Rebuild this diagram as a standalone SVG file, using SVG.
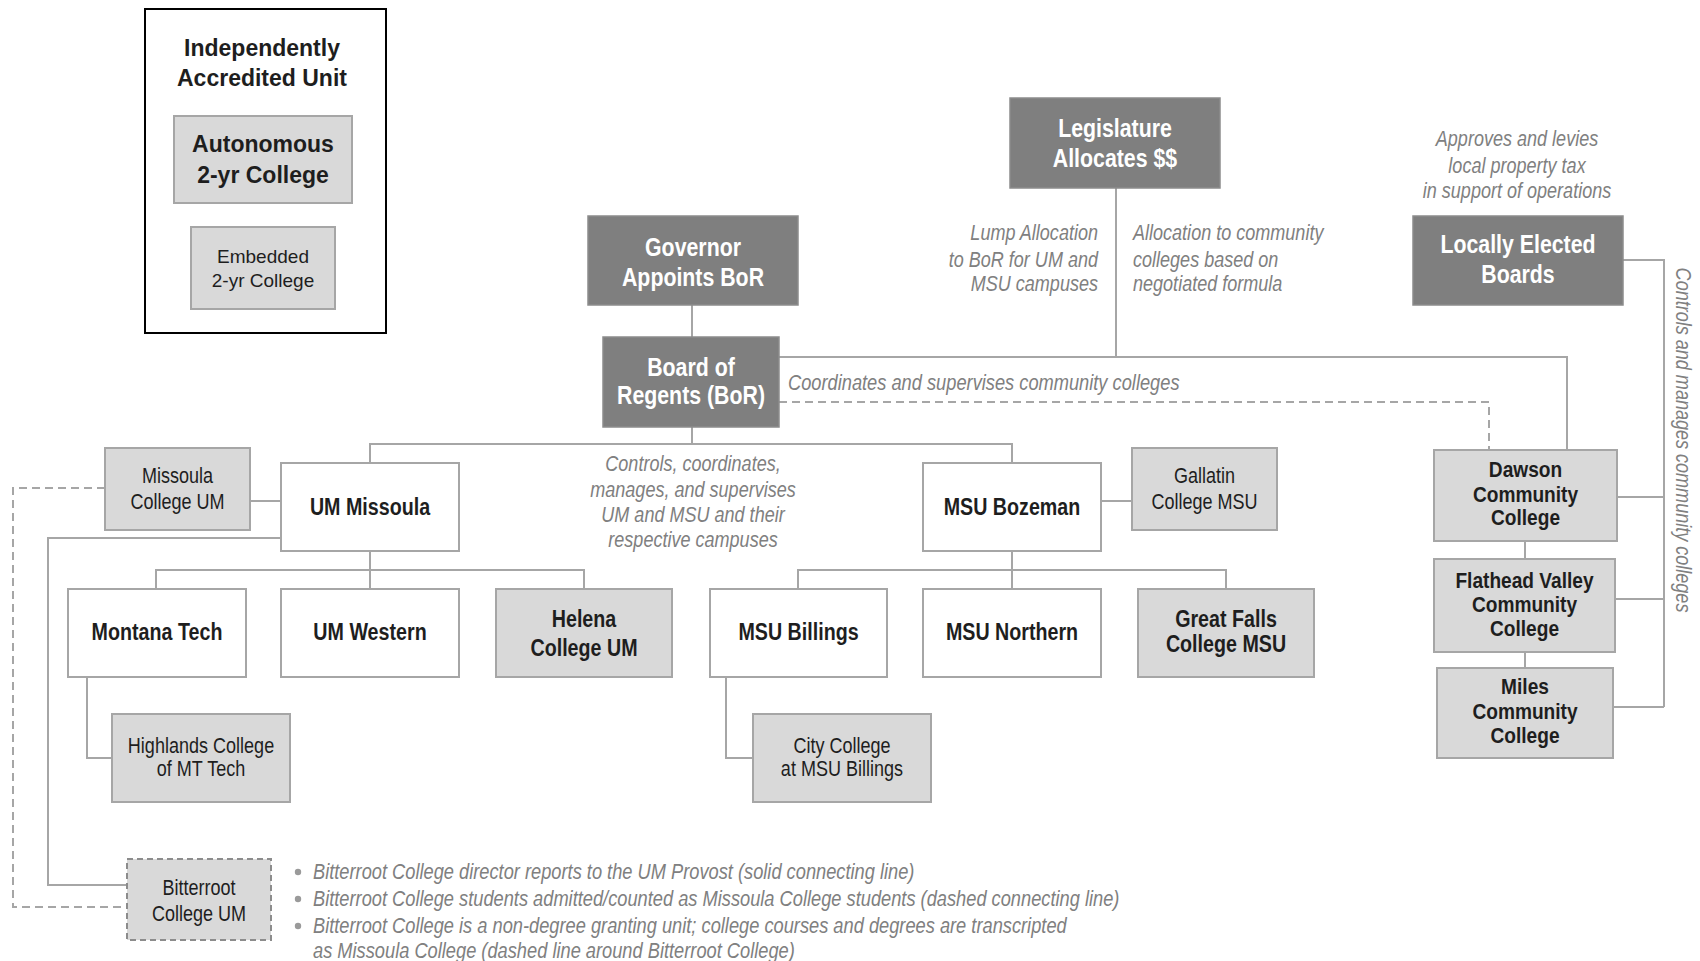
<svg xmlns="http://www.w3.org/2000/svg" width="1700" height="961" viewBox="0 0 1700 961">
<style>
text{font-family:'Liberation Sans',Arial,sans-serif;text-anchor:middle}
.dk{fill:#7f7f7f;stroke:#8c8c8c;stroke-width:1.5}
.lt{fill:#d9d9d9;stroke:#a6a6a6;stroke-width:2}
.wh{fill:#ffffff;stroke:#a6a6a6;stroke-width:2}
.dt{fill:#ffffff;font-weight:bold;font-size:26px}
.bt{fill:#1e1e1e;font-weight:bold;font-size:24px}
.ct{fill:#1e1e1e;font-weight:bold;font-size:22px}
.rt{fill:#1e1e1e;font-size:22px}
.it{fill:#808080;font-style:italic;font-size:22px}
.st{text-anchor:start}
.en{text-anchor:end}
.lg{fill:#1e1e1e;font-weight:bold;font-size:23px}
.lr{fill:#1e1e1e;font-size:19px}
.cn{fill:none;stroke:#a6a6a6;stroke-width:2}
.ds{fill:none;stroke:#a6a6a6;stroke-width:2;stroke-dasharray:8 5}
</style>

<g id="connectors">
  <path class="cn" d="M692 305V337"/>
  <path class="cn" d="M692 427V444M370 463V444H1012V463"/>
  <path class="cn" d="M1116 188V357"/>
  <path class="cn" d="M779 357H1567V450"/>
  <path class="ds" d="M779 402H1489V450"/>
  <path class="cn" d="M1623 260H1664V707"/>
  <path class="cn" d="M1617 497H1664M1615 599H1664M1613 707H1664"/>
  <path class="cn" d="M1525 541V559M1525 652V668"/>
  <path class="cn" d="M250 501H281"/>
  <path class="cn" d="M370 551V570M156 589V570H584V589M370 570V589"/>
  <path class="cn" d="M87 677V758H112"/>
  <path class="cn" d="M281 538H48V885H127"/>
  <path class="ds" d="M105 488H13V907H127"/>
  <path class="cn" d="M1101 501H1132"/>
  <path class="cn" d="M1012 551V570M798 589V570H1226V589M1012 570V589"/>
  <path class="cn" d="M726 677V758H753"/>
</g>

<g id="legend">
  <rect x="145" y="9" width="241" height="324" fill="#ffffff" stroke="#000000" stroke-width="2"/>
  <text class="lg" x="262" y="56">Independently</text>
  <text class="lg" x="262" y="86">Accredited Unit</text>
  <rect class="lt" x="174" y="116" width="178" height="87"/>
  <text class="lg" x="263" y="152">Autonomous</text>
  <text class="lg" x="263" y="183">2-yr College</text>
  <rect class="lt" x="191" y="227" width="144" height="82"/>
  <text class="lr" x="263" y="263">Embedded</text>
  <text class="lr" x="263" y="287">2-yr College</text>
</g>

<g id="legislature">
  <rect class="dk" x="1010" y="98" width="210" height="90"/>
  <text class="dt" transform="translate(1115,137) scale(0.82,1)">Legislature</text>
  <text class="dt" transform="translate(1115,167) scale(0.82,1)">Allocates $$</text>
</g>
<g id="governor">
  <rect class="dk" x="588" y="216" width="210" height="89"/>
  <text class="dt" transform="translate(693,256) scale(0.82,1)">Governor</text>
  <text class="dt" transform="translate(693,286) scale(0.82,1)">Appoints BoR</text>
</g>
<g id="bor">
  <rect class="dk" x="603" y="337" width="176" height="90"/>
  <text class="dt" transform="translate(691,376) scale(0.82,1)">Board of</text>
  <text class="dt" transform="translate(691,404) scale(0.82,1)">Regents (BoR)</text>
</g>
<g id="local-boards">
  <rect class="dk" x="1413" y="216" width="210" height="89"/>
  <text class="dt" transform="translate(1518,253) scale(0.82,1)">Locally Elected</text>
  <text class="dt" transform="translate(1518,283) scale(0.82,1)">Boards</text>
</g>

<g id="annotations">
  <text class="it en" transform="translate(1098,240) scale(0.82,1)">Lump Allocation</text>
  <text class="it en" transform="translate(1098,267) scale(0.82,1)">to BoR for UM and</text>
  <text class="it en" transform="translate(1098,291) scale(0.82,1)">MSU campuses</text>
  <text class="it st" transform="translate(1133,240) scale(0.82,1)">Allocation to community</text>
  <text class="it st" transform="translate(1133,267) scale(0.82,1)">colleges based on</text>
  <text class="it st" transform="translate(1133,291) scale(0.82,1)">negotiated formula</text>
  <text class="it" transform="translate(1517,146) scale(0.82,1)">Approves and levies</text>
  <text class="it" transform="translate(1517,173) scale(0.82,1)">local property tax</text>
  <text class="it" transform="translate(1517,198) scale(0.82,1)">in support of operations</text>
  <text class="it st" transform="translate(788,390) scale(0.83,1)">Coordinates and supervises community colleges</text>
  <text class="it" transform="translate(693,471) scale(0.82,1)">Controls, coordinates,</text>
  <text class="it" transform="translate(693,497) scale(0.82,1)">manages, and supervises</text>
  <text class="it" transform="translate(693,522) scale(0.82,1)">UM and MSU and their</text>
  <text class="it" transform="translate(693,547) scale(0.82,1)">respective campuses</text>
  <text class="it" transform="translate(1676,440) rotate(90) scale(0.82,1)">Controls and manages community colleges</text>
</g>

<g id="missoula-college">
  <rect class="lt" x="105" y="448" width="145" height="82"/>
  <text class="rt" transform="translate(177.5,483) scale(0.82,1)">Missoula</text>
  <text class="rt" transform="translate(177.5,509) scale(0.82,1)">College UM</text>
</g>
<g id="um-missoula">
  <rect class="wh" x="281" y="463" width="178" height="88"/>
  <text class="bt" transform="translate(370,515) scale(0.82,1)">UM Missoula</text>
</g>
<g id="montana-tech">
  <rect class="wh" x="68" y="589" width="178" height="88"/>
  <text class="bt" transform="translate(157,640) scale(0.82,1)">Montana Tech</text>
</g>
<g id="um-western">
  <rect class="wh" x="281" y="589" width="178" height="88"/>
  <text class="bt" transform="translate(370,640) scale(0.82,1)">UM Western</text>
</g>
<g id="helena">
  <rect class="lt" x="496" y="589" width="176" height="88"/>
  <text class="bt" transform="translate(584,627) scale(0.82,1)">Helena</text>
  <text class="bt" transform="translate(584,656) scale(0.82,1)">College UM</text>
</g>
<g id="highlands">
  <rect class="lt" x="112" y="714" width="178" height="88"/>
  <text class="rt" transform="translate(201,753) scale(0.82,1)">Highlands College</text>
  <text class="rt" transform="translate(201,776) scale(0.82,1)">of MT Tech</text>
</g>
<g id="bitterroot">
  <rect class="lt" x="127" y="859" width="144" height="81" style="stroke:#8c8c8c;stroke-dasharray:6 4"/>
  <text class="rt" transform="translate(199,895) scale(0.82,1)">Bitterroot</text>
  <text class="rt" transform="translate(199,921) scale(0.82,1)">College UM</text>
</g>

<g id="msu-bozeman">
  <rect class="wh" x="923" y="463" width="178" height="88"/>
  <text class="bt" transform="translate(1012,515) scale(0.82,1)">MSU Bozeman</text>
</g>
<g id="gallatin">
  <rect class="lt" x="1132" y="448" width="145" height="82"/>
  <text class="rt" transform="translate(1204.5,483) scale(0.82,1)">Gallatin</text>
  <text class="rt" transform="translate(1204.5,509) scale(0.82,1)">College MSU</text>
</g>
<g id="msu-billings">
  <rect class="wh" x="710" y="589" width="177" height="88"/>
  <text class="bt" transform="translate(798.5,640) scale(0.82,1)">MSU Billings</text>
</g>
<g id="msu-northern">
  <rect class="wh" x="923" y="589" width="178" height="88"/>
  <text class="bt" transform="translate(1012,640) scale(0.82,1)">MSU Northern</text>
</g>
<g id="great-falls">
  <rect class="lt" x="1138" y="589" width="176" height="88"/>
  <text class="bt" transform="translate(1226,627) scale(0.82,1)">Great Falls</text>
  <text class="bt" transform="translate(1226,652) scale(0.82,1)">College MSU</text>
</g>
<g id="city-college">
  <rect class="lt" x="753" y="714" width="178" height="88"/>
  <text class="rt" transform="translate(842,753) scale(0.82,1)">City College</text>
  <text class="rt" transform="translate(842,776) scale(0.82,1)">at MSU Billings</text>
</g>

<g id="dawson">
  <rect class="lt" x="1434" y="450" width="183" height="91"/>
  <text class="ct" transform="translate(1525.5,477) scale(0.87,1)">Dawson</text>
  <text class="ct" transform="translate(1525.5,502) scale(0.87,1)">Community</text>
  <text class="ct" transform="translate(1525.5,525) scale(0.87,1)">College</text>
</g>
<g id="flathead">
  <rect class="lt" x="1434" y="559" width="181" height="93"/>
  <text class="ct" transform="translate(1524.5,588) scale(0.87,1)">Flathead Valley</text>
  <text class="ct" transform="translate(1524.5,612) scale(0.87,1)">Community</text>
  <text class="ct" transform="translate(1524.5,636) scale(0.87,1)">College</text>
</g>
<g id="miles">
  <rect class="lt" x="1437" y="668" width="176" height="90"/>
  <text class="ct" transform="translate(1525,694) scale(0.87,1)">Miles</text>
  <text class="ct" transform="translate(1525,719) scale(0.87,1)">Community</text>
  <text class="ct" transform="translate(1525,743) scale(0.87,1)">College</text>
</g>

<g id="notes">
  <circle cx="298" cy="872" r="3.2" fill="#9a9a9a"/>
  <circle cx="298" cy="899" r="3.2" fill="#9a9a9a"/>
  <circle cx="298" cy="926" r="3.2" fill="#9a9a9a"/>
  <text class="it st" transform="translate(313,879) scale(0.83,1)">Bitterroot College director reports to the UM Provost (solid connecting line)</text>
  <text class="it st" transform="translate(313,906) scale(0.83,1)">Bitterroot College students admitted/counted as Missoula College students (dashed connecting line)</text>
  <text class="it st" transform="translate(313,933) scale(0.83,1)">Bitterroot College is a non-degree granting unit; college courses and degrees are transcripted</text>
  <text class="it st" transform="translate(313,958) scale(0.83,1)">as Missoula College (dashed line around Bitterroot College)</text>
</g>
</svg>
